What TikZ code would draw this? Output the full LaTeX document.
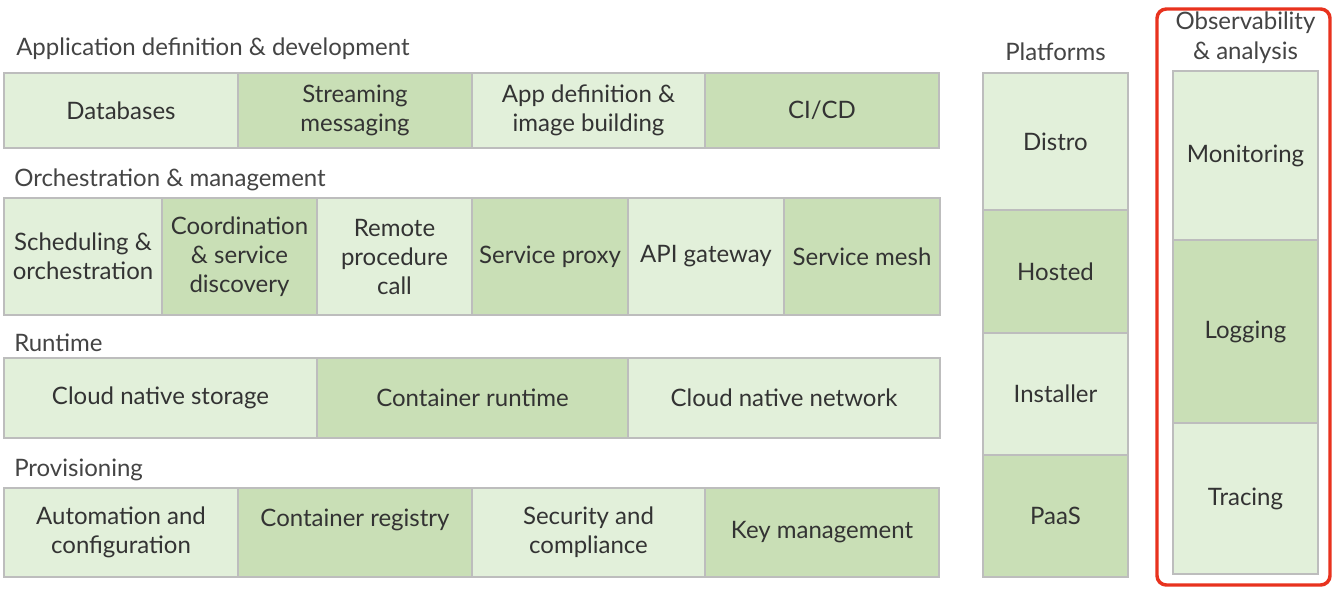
\documentclass[tikz,border=0pt]{standalone}
\usepackage{fontspec}
\setmainfont{Lato}
\definecolor{lightg}{HTML}{E2F0DA}
\definecolor{darkg}{HTML}{C9DFB6}
\definecolor{edgeg}{HTML}{BDBDBD}
\definecolor{txt}{HTML}{333333}
\definecolor{ttl}{HTML}{444444}
\definecolor{redframe}{HTML}{E8321E}
\begin{document}
\begin{tikzpicture}[x=0.75pt,y=-0.75pt,
  cellbase/.style={draw=edgeg, line width=0.9pt, align=center, text=txt, inner sep=0pt,
    font=\fontsize{18}{21.75}\selectfont},
  lt/.style 2 args={cellbase, fill=lightg, minimum width=#1*0.75pt, minimum height=#2*0.75pt},
  dk/.style 2 args={cellbase, fill=darkg, minimum width=#1*0.75pt, minimum height=#2*0.75pt},
  title/.style={text=ttl, font=\fontsize{18}{22.5}\selectfont, inner sep=0pt},
]
\useasboundingbox[fill=white] (0,0) rectangle (1343,600);

% Row 1
\node[title, anchor=west] (t1) at (16,49) {Application definition \& development};
\node[lt={234}{75}] (c11) at (121,110.5) {Databases};
\node[dk={234}{75}] (c12) at (355,110.5) {Streaming\\messaging};
\node[lt={233}{75}] (c13) at (588.5,110.5) {App definition \&\\image building};
\node[dk={234}{75}] (c14) at (822,110.5) {CI/CD};

% Row 2
\node[title, anchor=west] (t2) at (14,180) {Orchestration \& management};
\node[lt={158}{117}] (c21) at (83,256.5) {Scheduling \&\\orchestration};
\node[dk={155}{117}] (c22) at (239.5,256.5) {Coordination\\\& service\\discovery};
\node[lt={155}{117}] (c23) at (394.5,256.5) {Remote\\procedure\\call};
\node[dk={156}{117}] (c24) at (550,256.5) {Service proxy};
\node[lt={156}{117}] (c25) at (706,256.5) {API gateway};
\node[dk={156}{117}] (c26) at (862,256.5) {Service mesh};

% Row 3
\node[title, anchor=west] (t3) at (14,343) {Runtime};
\node[lt={313}{80}] (c31) at (160.5,398) {Cloud native storage};
\node[dk={311}{80}] (c32) at (472.5,398) {Container runtime};
\node[lt={312}{80}] (c33) at (784,398) {Cloud native network};

% Row 4
\node[title, anchor=west] (t4) at (14,470) {Provisioning};
\node[lt={234}{89}] (c41) at (121,532.5) {Automation and\\configuration};
\node[dk={234}{89}] (c42) at (355,532.5) {Container registry\\\mbox{}};
\node[lt={233}{89}] (c43) at (588.5,532.5) {Security and\\compliance};
\node[dk={234}{89}] (c44) at (822,532.5) {Key management};

% Platforms
\node[title] (tp) at (1055.5,52) {Platforms};
\node[lt={145}{137}] (p1) at (1055.5,141.5) {Distro};
\node[dk={145}{123}] (p2) at (1055.5,271.5) {Hosted};
\node[lt={145}{122}] (p3) at (1055.5,394) {Installer};
\node[dk={145}{122}] (p4) at (1055.5,516) {PaaS};

% Observability
\node[title, align=center] (to) at (1245.5,38) {Observability\\\& analysis};
\node[lt={145}{169}] (o1) at (1245.5,155.5) {Monitoring};
\node[dk={145}{183}] (o2) at (1245.5,331.5) {Logging};
\node[lt={145}{151}] (o3) at (1245.5,498.5) {Tracing};
\draw[redframe, line width=2.6pt, rounded corners=7pt] (1157,9) rectangle (1330,585);
\end{tikzpicture}
\end{document}
